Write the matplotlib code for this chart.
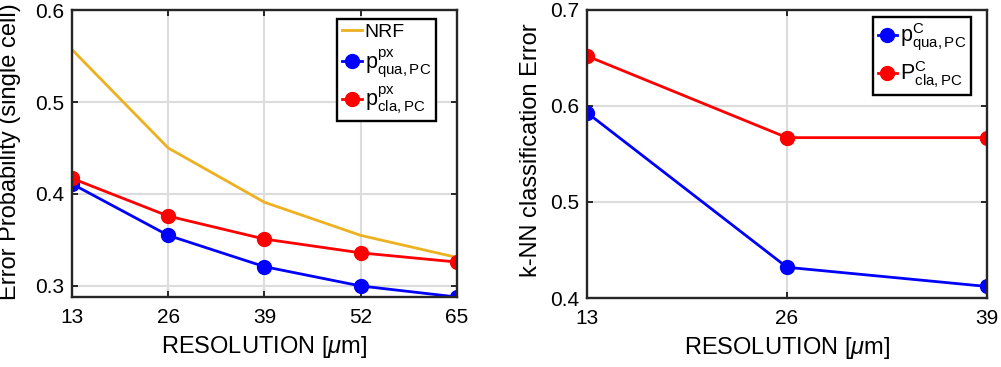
import matplotlib
matplotlib.use('Agg')
import matplotlib.pyplot as plt

plt.rcParams['font.family'] = ['Liberation Sans', 'DejaVu Sans']
plt.rcParams['mathtext.fontset'] = 'custom'
plt.rcParams['mathtext.rm'] = 'Liberation Sans'
plt.rcParams['mathtext.it'] = 'Liberation Sans:italic'
plt.rcParams['mathtext.bf'] = 'Liberation Sans:bold'

# datos panel izquierdo
res_izq = [13, 26, 39, 52, 65]
nrf = [0.557, 0.450, 0.391, 0.355, 0.331]
qua_px = [0.411, 0.355, 0.321, 0.300, 0.288]
cla_px = [0.417, 0.376, 0.351, 0.336, 0.326]

# datos panel derecho
res_der = [13, 26, 39]
qua_c = [0.593, 0.432, 0.412]
cla_c = [0.652, 0.567, 0.567]

naranja = '#EDB120'
gris_eje = '#262626'

fig = plt.figure(figsize=(10.01, 3.67), dpi=100)
ax1 = fig.add_axes([0.0719, 0.1907, 0.3846, 0.782])
ax2 = fig.add_axes([0.5864, 0.188, 0.3996, 0.785])


def estilo(ax):
    ax.grid(True, color='#dcdcdc', linewidth=1.5)
    ax.set_axisbelow(True)
    for s in ax.spines.values():
        s.set_linewidth(1.7)
        s.set_color(gris_eje)
    ax.tick_params(direction='in', top=True, right=True, length=4, width=1.4,
                   labelsize=15, colors=gris_eje, labelcolor='black')
    ax.tick_params(axis='x', pad=8)
    ax.tick_params(axis='y', pad=5.5)


def leyenda(ax, anchor):
    leg = ax.legend(loc='upper right', bbox_to_anchor=anchor, fontsize=14,
                    fancybox=False, framealpha=1, edgecolor='black',
                    handlelength=1.0, handletextpad=0.15, borderpad=0.25,
                    labelspacing=0.3, borderaxespad=0)
    leg.get_frame().set_linewidth(1.7)
    # las etiquetas con sub/superindice un poco mas grandes
    for t in leg.get_texts():
        if t.get_text().startswith('$'):
            t.set_fontsize(15.5)
    return leg


ax1.plot(res_izq, nrf, color=naranja, lw=2, label='NRF')
ax1.plot(res_izq, qua_px, color='blue', lw=2, marker='o', ms=10,
         label=r'$\mathrm{p}^{\mathrm{px}}_{\mathrm{qua,PC}}$')
ax1.plot(res_izq, cla_px, color='red', lw=2, marker='o', ms=10,
         label=r'$\mathrm{p}^{\mathrm{px}}_{\mathrm{cla,PC}}$')
ax1.set_xlim(13, 65)
ax1.set_ylim(0.288, 0.6)
ax1.set_xticks(res_izq)
ax1.set_yticks([0.3, 0.4, 0.5, 0.6])
estilo(ax1)
ax1.set_xlabel(r'RESOLUTION [$\mu$m]', fontsize=17, labelpad=5)
ax1.set_ylabel('Error Probability (single cell)', fontsize=17)
ax1.yaxis.set_label_coords(-0.132, 0.505)
leyenda(ax1, (0.945, 0.97))

ax2.plot(res_der, qua_c, color='blue', lw=2, marker='o', ms=10,
         label=r'$\mathrm{p}^{\mathrm{C}}_{\mathrm{qua,PC}}$')
ax2.plot(res_der, cla_c, color='red', lw=2, marker='o', ms=10,
         label=r'$\mathrm{P}^{\mathrm{C}}_{\mathrm{cla,PC}}$')
ax2.set_xlim(13, 39)
ax2.set_ylim(0.4, 0.7)
ax2.set_xticks(res_der)
ax2.set_yticks([0.4, 0.5, 0.6, 0.7])
estilo(ax2)
ax2.set_xlabel(r'RESOLUTION [$\mu$m]', fontsize=17, labelpad=5)
ax2.set_ylabel('k-NN classification Error', fontsize=17)
ax2.yaxis.set_label_coords(-0.1125, 0.514)
leyenda(ax2, (0.96, 0.976))

fig.savefig('out.png', dpi=100)
